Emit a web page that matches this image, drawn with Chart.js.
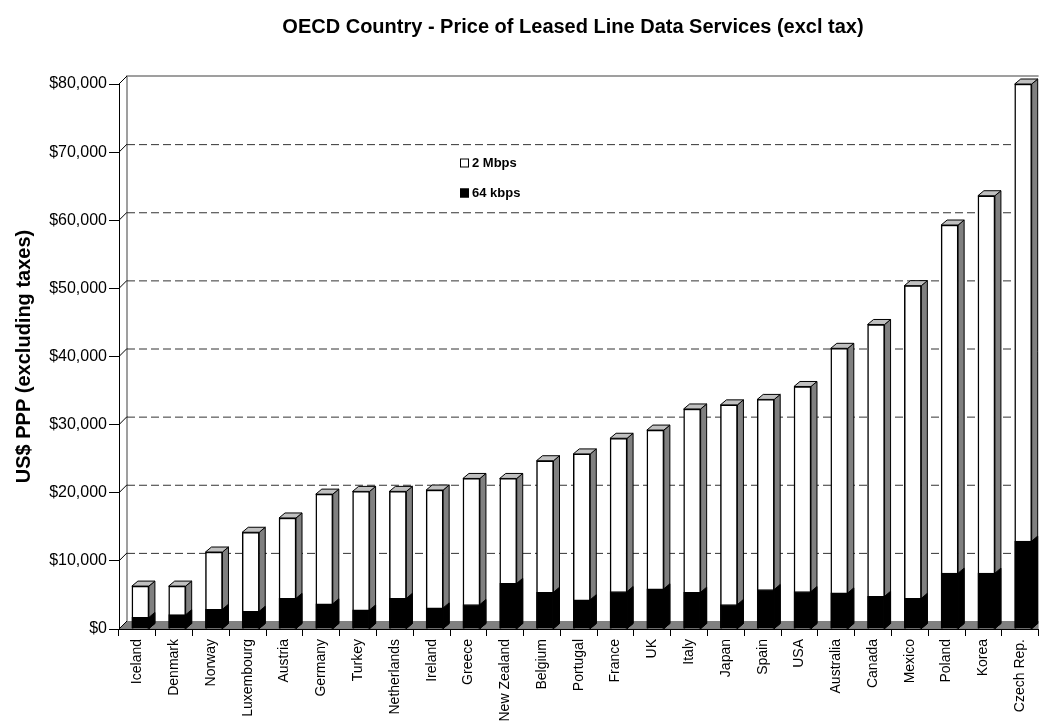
<!DOCTYPE html>
<html>
<head>
<meta charset="utf-8">
<title>OECD Leased Line Prices</title>
<script src="https://cdn.jsdelivr.net/npm/chart.js@4/dist/chart.umd.min.js"></script>
<style>
  html, body { margin: 0; padding: 0; background: #fff; }
  #wrap { width: 1040px; height: 727px; }
</style>
</head>
<body>
<div id="wrap"><canvas id="leasedChart" width="1040" height="727"></canvas></div>
<script>
const countries = ['Iceland', 'Denmark', 'Norway', 'Luxembourg', 'Austria', 'Germany', 'Turkey',
  'Netherlands', 'Ireland', 'Greece', 'New Zealand', 'Belgium', 'Portugal', 'France', 'UK',
  'Italy', 'Japan', 'Spain', 'USA', 'Australia', 'Canada', 'Mexico', 'Poland', 'Korea', 'Czech Rep.'];

// annual price, US$ PPP excluding taxes
const price2Mbps = [6300, 6300, 11300, 14200, 16300, 19800, 20200, 20200, 20400, 22100, 22100,
  24700, 25700, 28000, 29200, 32300, 32900, 33700, 35600, 41200, 44700, 50400, 59300, 63600, 80000];
const price64kbps = [1700, 2100, 2900, 2600, 4500, 3700, 2800, 4500, 3100, 3600, 6700,
  5400, 4300, 5500, 5900, 5400, 3600, 5800, 5500, 5300, 4800, 4500, 8200, 8200, 12900];

const yTicks = { min: 0, max: 80000, step: 10000 };
const chartTitle = 'OECD Country - Price of Leased Line Data Services (excl tax)';
const yTitle = 'US$ PPP (excluding taxes)';

const FONT = 'Arial, "Liberation Sans", sans-serif';
const DEPTH = 8;      // back wall offset
const BAR_DX = 6;     // bar side face
const BAR_DY = 5;

Chart.defaults.font.family = FONT;
Chart.defaults.color = '#000';

// white background, back wall, floor and dashed grid behind the bars
const wallPlugin = {
  id: 'wall',
  beforeDraw(chart) {
    const { ctx, chartArea: a, scales: { y } } = chart;
    ctx.save();
    ctx.fillStyle = '#fff';
    ctx.fillRect(0, 0, chart.width, chart.height);

    // floor
    ctx.fillStyle = '#808080';
    ctx.beginPath();
    ctx.moveTo(a.left, a.bottom);
    ctx.lineTo(a.left + DEPTH, a.bottom - DEPTH);
    ctx.lineTo(a.right, a.bottom - DEPTH);
    ctx.lineTo(a.right, a.bottom);
    ctx.closePath();
    ctx.fill();

    // wall edges
    ctx.strokeStyle = '#808080';
    ctx.lineWidth = 1.5;
    ctx.beginPath();
    ctx.moveTo(a.left + DEPTH, a.bottom - DEPTH);
    ctx.lineTo(a.left + DEPTH, a.top - DEPTH);
    ctx.lineTo(a.right, a.top - DEPTH);
    ctx.stroke();

    // grid lines on the back wall + diagonal tick links
    for (let v = yTicks.min; v <= yTicks.max; v += yTicks.step) {
      const py = y.getPixelForValue(v);
      ctx.strokeStyle = '#000';
      ctx.lineWidth = 1;
      ctx.setLineDash([]);
      ctx.beginPath();
      ctx.moveTo(a.left, py);
      ctx.lineTo(a.left + DEPTH, py - DEPTH);
      ctx.stroke();
      if (v > yTicks.min && v < yTicks.max) {
        ctx.strokeStyle = '#333';
        ctx.setLineDash([8, 4]);
        ctx.beginPath();
        ctx.moveTo(a.left + DEPTH, py - DEPTH + 0.5);
        ctx.lineTo(a.right, py - DEPTH + 0.5);
        ctx.stroke();
      }
    }
    ctx.restore();
  },
  beforeDatasetsDraw(chart) {
    chart.ctx.save();
    chart.ctx.translate(3, 0);
  },
  afterDatasetsDraw(chart) {
    chart.ctx.restore();
  },
  // side and top faces for each bar
  afterDatasetDraw(chart, args) {
    const { ctx } = chart;
    const ds = chart.data.datasets[args.index];
    const isTop = ds.label === '2 Mbps';
    ctx.save();
    ctx.lineWidth = 1;
    ctx.strokeStyle = '#000';
    args.meta.data.forEach(bar => {
      const { x, y, base, width } = bar.getProps(['x', 'y', 'base', 'width'], true);
      const l = x - width / 2, r = x + width / 2;
      ctx.fillStyle = isTop ? '#808080' : '#000';
      ctx.beginPath();
      ctx.moveTo(r, y);
      ctx.lineTo(r + BAR_DX, y - BAR_DY);
      ctx.lineTo(r + BAR_DX, base - BAR_DY);
      ctx.lineTo(r, base);
      ctx.closePath();
      ctx.fill();
      ctx.stroke();
      if (isTop) {
        ctx.fillStyle = '#c0c0c0';
        ctx.beginPath();
        ctx.moveTo(l, y);
        ctx.lineTo(l + BAR_DX, y - BAR_DY);
        ctx.lineTo(r + BAR_DX, y - BAR_DY);
        ctx.lineTo(r, y);
        ctx.closePath();
        ctx.fill();
        ctx.stroke();
      }
    });
    ctx.restore();
  },
  afterDraw(chart) {
    const { ctx } = chart;
    ctx.save();
    ctx.fillStyle = '#000';
    ctx.textBaseline = 'middle';
    ctx.textAlign = 'center';
    ctx.font = 'bold 20px ' + FONT;
    ctx.fillText(chartTitle, 573, 27);

    // legend
    const items = [
      { label: '2 Mbps', fill: '#fff' },
      { label: '64 kbps', fill: '#000' }
    ];
    ctx.textAlign = 'left';
    ctx.font = 'bold 13px ' + FONT;
    items.forEach((it, i) => {
      const ly = 163 + i * 30;
      ctx.fillStyle = it.fill;
      ctx.fillRect(460, ly - 4.5, 9, 9);
      ctx.strokeStyle = '#000';
      ctx.lineWidth = 1;
      ctx.strokeRect(460.5, ly - 4, 8, 8);
      ctx.fillStyle = '#000';
      ctx.fillText(it.label, 472, ly + 0.5);
    });
    ctx.restore();
  }
};

new Chart(document.getElementById('leasedChart'), {
  type: 'bar',
  data: {
    labels: countries,
    datasets: [
      {
        label: '64 kbps',
        data: price64kbps,
        backgroundColor: '#000',
        borderColor: '#000',
        borderWidth: 1,
        barThickness: 17
      },
      {
        label: '2 Mbps',
        data: price2Mbps,
        backgroundColor: '#fff',
        borderColor: '#000',
        borderWidth: 1.5,
        barThickness: 17
      }
    ]
  },
  options: {
    responsive: false,
    animation: false,
    layout: { padding: { top: 84, left: 0, right: 0, bottom: 0 } },
    plugins: {
      legend: { display: false },
      tooltip: { enabled: false }
    },
    scales: {
      x: {
        stacked: true,
        grid: { drawOnChartArea: false, tickLength: 7, color: '#000', offset: true },
        border: { color: '#000', width: 1 },
        ticks: { autoSkip: false, maxRotation: 90, minRotation: 90, font: { size: 14 }, padding: 3 },
        afterFit(scale) { scale.height = 98; }
      },
      y: {
        stacked: false,
        min: yTicks.min,
        max: yTicks.max,
        grid: { drawOnChartArea: false, tickLength: 10, color: '#000' },
        border: { color: '#000', width: 1 },
        ticks: {
          stepSize: yTicks.step,
          padding: 2,
          font: { size: 16 },
          callback: v => '$' + v.toLocaleString('en-US')
        },
        title: {
          display: true,
          text: yTitle,
          font: { size: 20, weight: 'bold' },
          padding: { top: 12, bottom: 0 }
        },
        afterFit(scale) { scale.width = 119; }
      }
    }
  },
  plugins: [wallPlugin]
});
</script>
</body>
</html>
